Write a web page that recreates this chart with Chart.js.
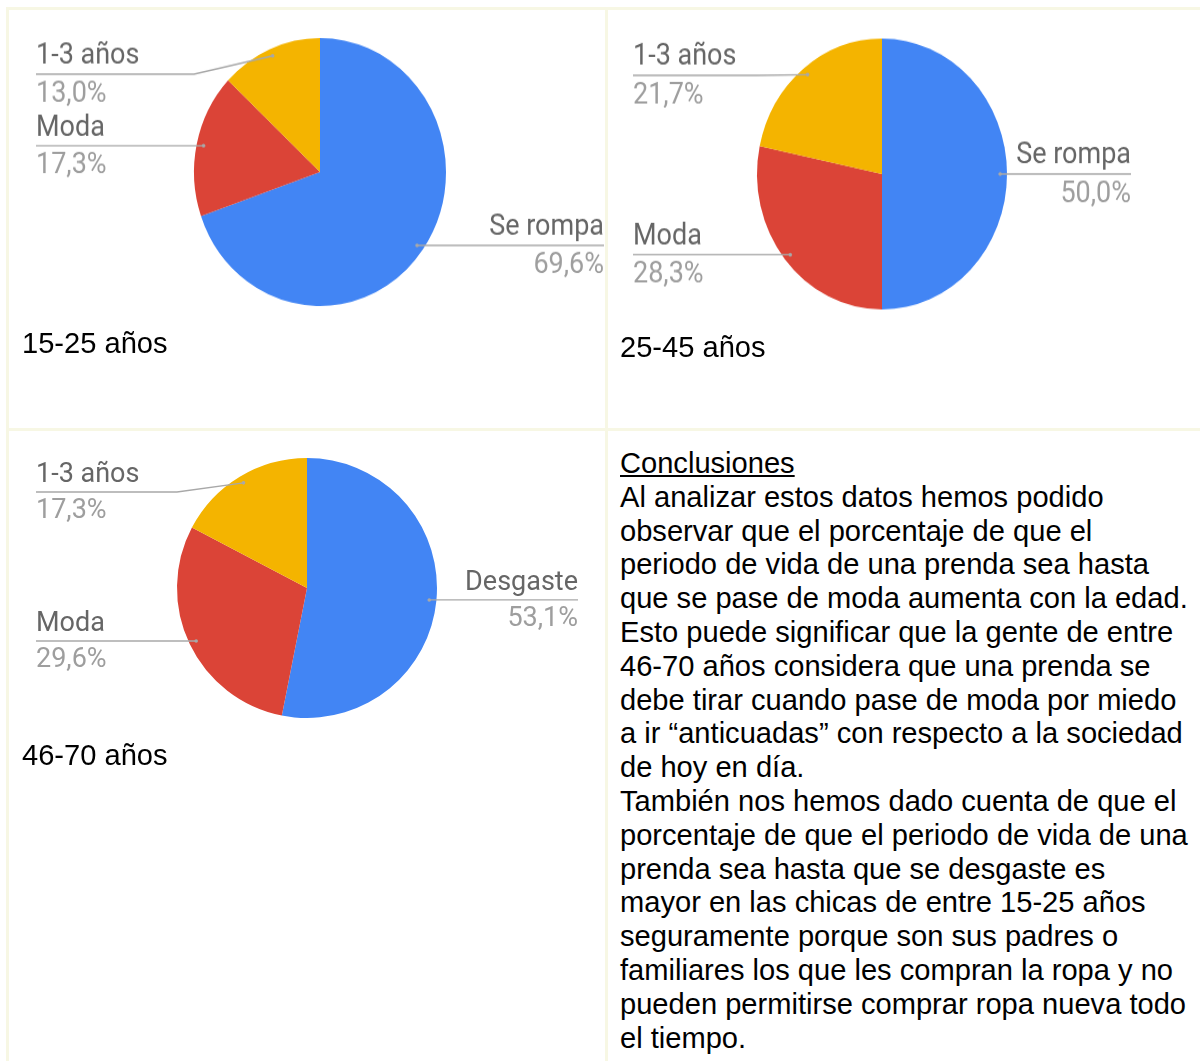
<!DOCTYPE html>
<html>
<head>
<meta charset="utf-8">
<script src="https://cdn.jsdelivr.net/npm/chart.js@4.4.0/dist/chart.umd.min.js"></script>
<style>
  body { margin: 0; background: #fff; width: 1200px; height: 1061px; overflow: hidden; position: relative; }
  .rule { position: absolute; background: #f7f7e4; }
  .cap, .notes { position: absolute; font-family: "Liberation Sans", Arial, sans-serif; font-size: 29.1px; line-height: 33.8px; color: #000; white-space: nowrap; }
  canvas { position: absolute; }
</style>
</head>
<body>
<!-- table grid -->
<div class="rule" style="left:6px;top:7px;width:1194px;height:3px"></div>
<div class="rule" style="left:6px;top:7px;width:3px;height:1054px"></div>
<div class="rule" style="left:605px;top:7px;width:3px;height:1054px"></div>
<div class="rule" style="left:6px;top:428px;width:1194px;height:3px"></div>

<canvas id="pie1"></canvas>
<canvas id="pie2"></canvas>
<canvas id="pie3"></canvas>

<div class="cap" style="left:22px;top:327px">15-25 años</div>
<div class="cap" style="left:620px;top:331px">25-45 años</div>
<div class="cap" style="left:22px;top:739px">46-70 años</div>

<div class="notes" id="notes" style="left:620px;top:447px"></div>

<script>
// Data per age group (percent of answers)
const labels1525 = ['Se rompa', 'Moda', '1-3 años'];
const values1525 = [69.6, 17.3, 13.0];

const labels2545 = ['Se rompa', 'Moda', '1-3 años'];
const values2545 = [50.0, 28.3, 21.7];

const labels4670 = ['Desgaste', 'Moda', '1-3 años'];
const values4670 = [53.1, 29.6, 17.3];

const sliceColors = ['#4285f4', '#db4437', '#f4b400'];

// Conclusions text, one entry per printed line
const noteLines = [
  'Al analizar estos datos hemos podido',
  'observar que el porcentaje de que el',
  'periodo de vida de una prenda sea hasta',
  'que se pase de moda aumenta con la edad.',
  'Esto puede significar que la gente de entre',
  '46-70 años considera que una prenda se',
  'debe tirar cuando pase de moda por miedo',
  'a ir “anticuadas” con respecto a la sociedad',
  'de hoy en día.',
  'También nos hemos dado cuenta de que el',
  'porcentaje de que el periodo de vida de una',
  'prenda sea hasta que se desgaste es',
  'mayor en las chicas de entre 15-25 años',
  'seguramente porque son sus padres o',
  'familiares los que les compran la ropa y no',
  'pueden permitirse comprar ropa nueva todo',
  'el tiempo.'
];

const notes = document.getElementById('notes');
const head = document.createElement('div');
head.textContent = 'Conclusiones';
head.style.textDecoration = 'underline';
notes.appendChild(head);
noteLines.forEach(line => {
  const d = document.createElement('div');
  d.textContent = line;
  notes.appendChild(d);
});

// Google-style outside labels with leader lines
const outsideLabels = {
  id: 'outsideLabels',
  afterDraw(chart, args, opts) {
    const ctx = chart.ctx;
    const meta = chart.getDatasetMeta(0);
    const values = chart.data.datasets[0].data;
    const names = chart.data.labels;
    const half = opts.half;
    meta.data.forEach((arc, i) => {
      const p = arc.getProps(['x', 'y', 'startAngle', 'endAngle', 'outerRadius']);
      const mid = (p.startAngle + p.endAngle) / 2;
      const ax = p.x + Math.cos(mid) * p.outerRadius * 0.945;
      const ay = p.y + Math.sin(mid) * p.outerRadius * 0.945;
      const right = Math.cos(mid) >= 0;
      const lineY = Math.max(ay, p.y - p.outerRadius + 34);
      const textX = right ? p.x + half : p.x - half;
      const bendX = right ? p.x + p.outerRadius : p.x - p.outerRadius;

      ctx.save();
      ctx.strokeStyle = '#a8a8a8';
      ctx.lineWidth = 1.3;
      ctx.beginPath();
      ctx.moveTo(textX, lineY);
      ctx.lineTo(bendX, lineY);
      ctx.lineTo(ax, ay);
      ctx.stroke();
      ctx.fillStyle = '#a8a8a8';
      ctx.beginPath();
      ctx.arc(ax, ay, 1.8, 0, Math.PI * 2);
      ctx.fill();

      ctx.font = '27px Roboto';
      ctx.textAlign = right ? 'right' : 'left';
      ctx.textBaseline = 'middle';
      ctx.fillStyle = '#666666';
      ctx.fillText(names[i], textX, lineY - 16.5);
      ctx.fillStyle = '#9e9e9e';
      ctx.fillText(values[i].toFixed(1).replace('.', ',') + '%', textX, lineY + 19);
      ctx.restore();
    });
  }
};

// cx, cy: pie centre on the page; r: radius; half: label offset; sy: vertical stretch
function drawPie(id, labels, values, cx, cy, r, half, sy) {
  const canvas = document.getElementById(id);
  const padTop = 20, padBottom = 50;
  const side = half + 4 - r;
  canvas.width = 2 * (half + 4);
  canvas.height = 2 * r + padTop + padBottom;
  canvas.style.left = (cx - half - 4) + 'px';
  canvas.style.top = (cy - r - padTop) + 'px';
  canvas.style.transformOrigin = (half + 4) + 'px ' + (r + padTop) + 'px';
  canvas.style.transform = 'scaleY(' + sy + ')';

  new Chart(canvas.getContext('2d'), {
    type: 'pie',
    data: {
      labels: labels,
      datasets: [{
        data: values,
        backgroundColor: sliceColors,
        borderWidth: 0
      }]
    },
    options: {
      responsive: false,
      animation: false,
      layout: { padding: { left: side, right: side, top: padTop, bottom: padBottom } },
      plugins: {
        legend: { display: false },
        tooltip: { enabled: false },
        outsideLabels: { half: half }
      }
    },
    plugins: [outsideLabels]
  });
}

drawPie('pie1', labels1525, values1525, 320, 172, 126, 284, 134 / 126);
drawPie('pie2', labels2545, values2545, 882, 173.5, 125, 249, 135.5 / 125);
drawPie('pie3', labels4670, values4670, 307, 588, 130, 271, 1);
</script>
</body>
</html>
